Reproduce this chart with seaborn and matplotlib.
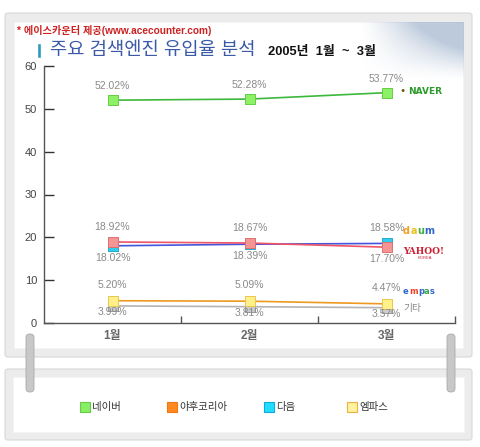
import numpy as np
import pandas as pd
import matplotlib.pyplot as plt
import seaborn as sns
from matplotlib.patches import Rectangle, FancyBboxPatch
from matplotlib.lines import Line2D

# ==========================================
# Data
# ==========================================
months = ['1월', '2월', '3월']
engines = ['네이버', '야후코리아', '다음', '엠파스', '기타']
naver = [52.02, 52.28, 53.77]
yahoo = [18.92, 18.67, 17.70]
daum = [18.02, 18.39, 18.58]
empas = [5.20, 5.09, 4.47]
etc = [3.99, 3.81, 3.57]

legend_names = ['네이버', '야후코리아', '다음', '엠파스']

line_colors = {'네이버': '#3cb83c', '야후코리아': '#ee5566', '다음': '#4455dd',
               '엠파스': '#ee9922', '기타': '#b4b4b4'}
marker_colors = {'네이버': '#8ef066', '야후코리아': '#f59595', '다음': '#33ccee',
                 '엠파스': '#fff08a', '기타': '#cccccc'}
marker_edges = {'네이버': '#66cc44', '야후코리아': '#e07070', '다음': '#22aacc',
                '엠파스': '#e8c850', '기타': '#999999'}
legend_colors = [('#88ee66', '#66cc44'), ('#ff8822', '#ee7711'),
                 ('#22ddff', '#11aadd'), ('#fff2a0', '#f0b040')]

df = pd.DataFrame({
    '월': months * 5,
    '유입율': naver + yahoo + daum + empas + etc,
    '엔진': [e for e in engines for _ in months],
})

# ==========================================
# Figure & background panels
# ==========================================
sns.set_style('white')
plt.rcParams['font.family'] = ['Liberation Sans', 'Noto Sans CJK KR', 'DejaVu Sans']

W, H = 480, 447
fig = plt.figure(figsize=(4.8, 4.47), dpi=100)
fig.patch.set_facecolor('white')


def fx(x):
    return x / W


def fy(y):
    return 1 - y / H


def panel(x0, y0, x1, y1, inner=9):
    outer = FancyBboxPatch((fx(x0), fy(y1)), fx(x1 - x0), (y1 - y0) / H,
                           boxstyle='round,pad=0,rounding_size=0.006',
                           transform=fig.transFigure, facecolor='#ececec',
                           edgecolor='#d8d8d8', lw=0.8, zorder=0)
    fig.patches.append(outer)
    fig.patches.append(Rectangle((fx(x0 + inner), fy(y1 - inner)),
                                 fx(x1 - x0 - 2 * inner), (y1 - y0 - 2 * inner) / H,
                                 transform=fig.transFigure, facecolor='white',
                                 edgecolor='#f4f4f4', lw=0.5, zorder=0.1))


panel(5, 13, 472, 357)
panel(5, 369, 472, 440, inner=8)

# soft bluish fade behind the paper clip corner
grad_ax = fig.add_axes([fx(360), fy(80), fx(104), 58 / H], zorder=0.2)
gx = np.linspace(0, 1, 120)
gy = np.linspace(1, 0, 60)
alpha = np.clip(np.outer(gy, gx) * 1.4, 0, 0.75) ** 1.3
rgba = np.zeros((60, 120, 4))
rgba[..., 0], rgba[..., 1], rgba[..., 2] = 0.62, 0.70, 0.80
rgba[..., 3] = alpha
grad_ax.imshow(rgba, aspect='auto')
grad_ax.axis('off')

# hanging rings
for rx in (30, 451):
    fig.patches.append(FancyBboxPatch((fx(rx - 4), fy(392)), fx(8), 58 / H,
                                      boxstyle='round,pad=0,rounding_size=0.008',
                                      transform=fig.transFigure, facecolor='#c8c8c8',
                                      edgecolor='#aaaaaa', lw=0.6, zorder=3))

# ==========================================
# Main chart
# ==========================================
ax = fig.add_axes([fx(44), fy(323), fx(455 - 44), (323 - 66) / H], zorder=1)
ax.patch.set_alpha(0)

sns.lineplot(data=df, x='월', y='유입율', hue='엔진', hue_order=engines[::-1],
             palette=line_colors, lw=1.2, legend=False, ax=ax, sort=False)
for e in engines[::-1]:
    sub = df[df['엔진'] == e]
    sns.scatterplot(data=sub, x='월', y='유입율', marker='s', s=45,
                    color=marker_colors[e], edgecolor=marker_edges[e],
                    linewidth=0.7, legend=False, ax=ax, zorder=3)

ax.set_xlim(-0.5, 2.5)
ax.set_ylim(0, 60)
ax.set_yticks(range(0, 61, 10))
ax.set_xlabel('')
ax.set_ylabel('')
for s in ('top', 'right'):
    ax.spines[s].set_visible(False)
for s in ('left', 'bottom'):
    ax.spines[s].set_color('#555555')
    ax.spines[s].set_linewidth(1)
ax.tick_params(axis='y', direction='in', length=7, width=1, color='#333333',
               labelsize=8, labelcolor='#444444', pad=5, left=True)
ax.tick_params(axis='x', which='major', length=0, labelsize=8.5,
               labelcolor='#666666', pad=5)
ax.set_xticks([0.5, 1.5, 2.5], minor=True)
ax.tick_params(axis='x', which='minor', direction='in', length=5, width=1,
               color='#555555', bottom=True)
for lbl in ax.get_xticklabels():
    lbl.set_fontweight('bold')

# value labels: in each pair the higher value sits above, the lower below


def put(x, v, dy):
    ax.annotate(f'{v:.2f}%', (x, v), xytext=(0, dy), textcoords='offset points',
                ha='center', va='center', fontsize=7.5, color='#8a8a8a')


for i in range(len(months)):
    put(i, naver[i], 10)
    hi, lo = max(yahoo[i], daum[i]), min(yahoo[i], daum[i])
    put(i, hi, 11)
    put(i, lo, -8.5)
    put(i, empas[i], 11.5)
    put(i, etc[i], -4.5)

# engine logos on the right


def letters(x, y, word, cols, widths, size):
    for ch, c, w in zip(word, cols, widths):
        fig.text(fx(x), fy(y), ch, fontsize=size, fontweight='bold', color=c,
                 va='center', family='DejaVu Sans')
        x += w


fig.text(fx(403), fy(91), '●', fontsize=5, color='#6b5a10', va='center', ha='center')
fig.text(fx(408), fy(91), 'NAVER', fontsize=6.5, fontweight='bold', color='#2a9a2a',
         va='center', family='DejaVu Sans')
letters(403, 231, 'daum', ['#f0a020', '#e8c020', '#40b040', '#3366cc'],
        [7.2, 6.8, 7.1, 10], 7)
fig.text(fx(403), fy(251), 'YAHOO!', fontsize=6.5, fontweight='bold', color='#cc2233',
         va='center', family='DejaVu Serif')
fig.text(fx(418), fy(258), 'KOREA', fontsize=3, color='#cc2233', va='center')
letters(403, 292, 'empas', ['#3366cc', '#ee4422', '#3366cc', '#33aa44', '#3366cc'],
        [5.8, 9, 6.2, 5.8, 5.2], 6)
fig.text(fx(403), fy(308), '기타', fontsize=7, color='#888888', va='center')

# ==========================================
# Titles
# ==========================================
fig.text(fx(17), fy(30), '* 에이스카운터 제공(www.acecounter.com)', fontsize=7.3,
         fontweight='bold', color='#cc2222', va='center')
fig.patches.append(Rectangle((fx(37), fy(58)), fx(4), 15 / H, transform=fig.transFigure,
                             facecolor='#2a9ab8', zorder=2))
fig.text(fx(50), fy(50), '주요 검색엔진 유입율 분석', fontsize=13.5, color='#3a5aa8',
         va='center')
fig.text(fx(268), fy(52), '2005년  1월  ~  3월', fontsize=9.3, fontweight='bold',
         color='#111111', va='center')

# ==========================================
# Legend panel
# ==========================================
for xm, name, (c, ec) in zip([85, 172, 269, 352], legend_names, legend_colors):
    fig.add_artist(Line2D([fx(xm)], [fy(407)], ls='none', marker='s', markersize=6.5,
                          markerfacecolor=c, markeredgecolor=ec, markeredgewidth=0.8,
                          transform=fig.transFigure))
    fig.text(fx(xm + 7), fy(407), name, fontsize=7.5, color='#333333', va='center')

fig.savefig('out.png', dpi=100)
